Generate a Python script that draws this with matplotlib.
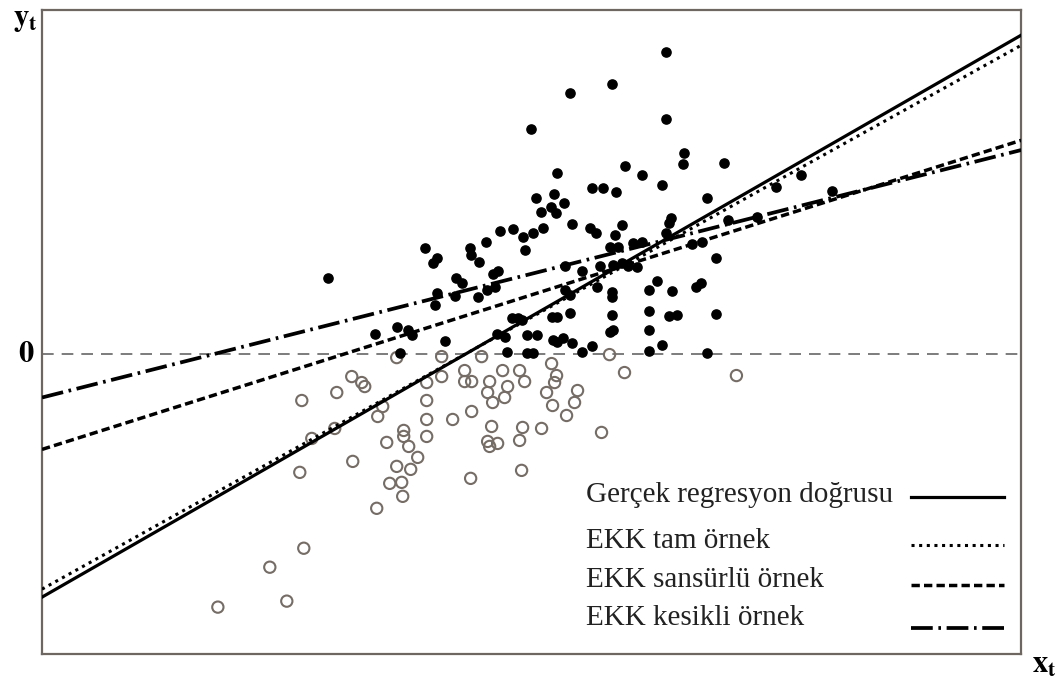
import numpy as np
import matplotlib.pyplot as plt

plt.rcParams['mathtext.fontset'] = 'stix'

# gözlenen (sansürsüz) noktalar, y > 0
dolu_x = [28.6, 38.3, 39.5, 39.1, 42.8, 42.9, 43.7, 44.4, 45.8, 47.1, 48.1, 48.3, 49.1, 50.1,
          49.4, 51.2, 49.9, 50.9, 51.4, 41.4, 42.0, 45.1, 45.6, 39.5, 39.3, 41.3, 43.6, 44.5,
          45.3, 33.3, 35.5, 36.6, 37.0, 40.3, 45.5, 47.6, 48.5, 49.5, 51.0, 51.1, 35.8, 46.5,
          48.5, 49.1, 62.5, 57.0, 52.8, 48.9, 62.5, 64.3, 64.2, 68.3, 51.5, 58.3, 60.1, 62.1,
          55.0, 56.1, 57.4, 66.6, 52.2, 53.0, 54.8, 55.4, 58.0, 57.3, 63.0, 62.8, 62.5, 68.7,
          56.8, 57.6, 59.1, 60.1, 65.1, 66.1, 67.5, 52.3, 54.0, 55.8, 57.1, 58.0, 58.6, 59.5,
          61.6, 60.8, 63.1, 65.5, 66.0, 52.3, 52.8, 55.5, 57.0, 57.0, 47.0, 48.0, 51.5, 52.8,
          57.0, 60.8, 62.8, 63.6, 67.5, 46.3, 52.1, 53.0, 55.0, 56.8, 57.1, 60.8, 62.1, 54.0,
          60.8, 66.6, 71.6, 73.5, 76.0, 79.1, 51.5]
dolu_y = [7.6, 10.6, 9.6, 9.1, 10.6, 9.9, 9.2, 11.2, 12.3, 12.5, 11.7, 10.4, 12.1, 12.6,
          15.6, 16.0, 14.2, 14.7, 14.1, 7.6, 7.1, 8.0, 8.3, 6.1, 4.9, 5.8, 5.7, 6.4,
          6.7, 2.0, 2.7, 2.4, 1.9, 1.3, 2.0, 3.6, 1.9, 1.9, 3.7, 1.4, 0.1, 0.2,
          0.1, 0.1, 30.2, 27.0, 26.1, 22.5, 23.5, 20.1, 19.0, 19.1, 18.1, 18.8, 17.9, 16.9,
          16.6, 16.6, 16.2, 15.6, 15.1, 13.0, 12.6, 12.1, 12.9, 11.9, 13.6, 13.1, 12.1, 13.4,
          10.7, 10.7, 11.1, 11.2, 11.0, 11.2, 9.6, 8.8, 8.3, 8.8, 8.9, 9.1, 8.8, 8.7,
          7.3, 6.4, 6.3, 6.7, 7.1, 6.4, 5.9, 6.7, 6.2, 5.7, 3.6, 3.4, 3.7, 4.1,
          3.9, 4.3, 3.8, 3.9, 4.0, 1.7, 1.6, 1.1, 0.8, 2.2, 2.4, 2.4, 0.9, 0.2,
          0.3, 0.1, 13.7, 16.7, 17.9, 16.3, 1.2]

# sansürlenen noktalar, y < 0
bos_x = [26.0, 29.5, 31.0, 32.0, 32.3, 35.5, 34.1, 33.6, 29.3, 27.0, 31.1, 25.8, 34.5, 36.2,
         36.2, 36.7, 37.6, 35.5, 36.9, 34.8, 36.0, 36.1, 33.5, 38.5, 38.5, 38.5, 38.5, 40.0,
         40.0, 41.1, 42.3, 42.3, 43.0, 43.0, 42.9, 44.0, 44.8, 44.6, 45.1, 45.0, 44.6, 44.8,
         46.1, 46.6, 46.3, 47.8, 48.3, 51.0, 51.5, 51.3, 50.5, 53.6, 53.3, 51.1, 52.5, 48.1,
         50.0, 56.0, 45.6, 47.8, 48.0, 56.8, 58.3, 69.5, 26.2, 22.8, 24.5, 17.6]
bos_y = [-4.7, -3.9, -2.3, -2.9, -3.3, -0.4, -5.3, -6.3, -7.5, -8.5, -10.8, -11.9, -8.9, -7.7,
         -8.3, -9.3, -10.4, -11.3, -11.6, -13.0, -12.9, -14.3, -15.5, -2.9, -4.7, -6.6, -8.3, -2.3,
         -0.3, -6.6, -1.7, -2.8, -2.8, -5.8, -12.5, -0.3, -2.8, -3.9, -4.9, -7.3, -8.8, -9.3,
         -1.7, -3.3, -4.4, -1.7, -2.8, -1.0, -2.2, -2.9, -3.9, -3.7, -4.9, -5.2, -6.2, -7.4,
         -7.5, -7.9, -9.0, -8.7, -11.7, -0.1, -1.9, -2.2, -19.5, -21.4, -24.8, -25.4]

# doğrular: sabit ve eğim
etiketler = ["Gerçek regresyon doğrusu", "EKK tam örnek", "EKK sansürlü örnek", "EKK kesikli örnek"]
sabitler = [-24.4, -23.6, -9.6, -4.4]
egimler = [0.5745, 0.556, 0.316, 0.253]
stiller = ['-', (0, (1, 1.5)), (0, (2.4, 1.2)), (0, (5.8, 1.5, 0.7, 1.5))]
kalinliklar = [2.3, 2.2, 2.5, 2.7]

fig = plt.figure(figsize=(10.58, 6.82), dpi=100)
ax = fig.add_axes([0.0397, 0.041, 0.9255, 0.944])

x_min, x_max = 0, 98
ax.set_xlim(x_min, x_max)
ax.set_ylim(-30.1, 34.4)

ax.axhline(0, color='#666666', lw=1.2, linestyle=(0, (7, 4.8)), zorder=1)

ax.scatter(bos_x, bos_y, s=66, facecolors='none', edgecolors='#756c66', linewidths=1.5, zorder=2)
ax.scatter(dolu_x, dolu_y, s=44, color='black', zorder=3)

xx = np.array([x_min, x_max])
for a, b, ls, lw in zip(sabitler, egimler, stiller, kalinliklar):
    ax.plot(xx, a + b * xx, color='black', linestyle=ls, lw=lw, zorder=4)

# elle yapılmış gösterge
yazi_y = [0.247, 0.175, 0.115, 0.056]
cizgi_y = [0.244, 0.169, 0.107, 0.040]
for et, ls, lw, ty, cy in zip(etiketler, stiller, kalinliklar, yazi_y, cizgi_y):
    ax.text(0.556, ty, et, transform=ax.transAxes, family='Liberation Serif',
            fontsize=21, va='center', ha='left', color='#222222')
    ax.plot([0.887, 0.982], [cy, cy], transform=ax.transAxes, color='black',
            linestyle=ls, lw=lw)

ax.set_xticks([])
ax.set_yticks([])
for sp in ax.spines.values():
    sp.set_color('#6e6660')
    sp.set_linewidth(1.6)

fig.text(0.012, 0.972, r'$\mathbf{y_t}$', fontsize=22, ha='left', va='center')
fig.text(0.017, 0.481, r'$\mathbf{0}$', fontsize=22, ha='left', va='center')
fig.text(0.975, 0.025, r'$\mathbf{x_t}$', fontsize=22, ha='left', va='center')

fig.savefig('out.png', dpi=100, facecolor='white')
